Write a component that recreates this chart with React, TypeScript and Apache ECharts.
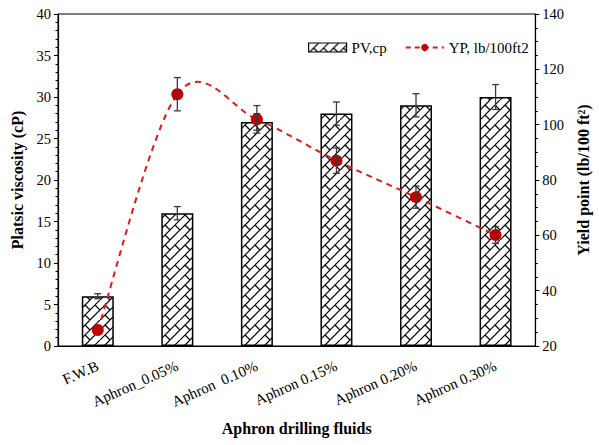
import React, { useEffect, useRef } from "react";
import * as echarts from "echarts";

const categories = ["F.W.B", "Aphron_0.05%", "Aphron  0.10%", "Aphron 0.15%", "Aphron 0.20%", "Aphron 0.30%"];
const pvValues = [6, 16, 27, 28, 29, 30];
const pvErrors = [0.3, 0.8, 1.0, 1.4, 1.4, 1.5];
const ypValues = [25.8, 111, 101.9, 87, 73.8, 60.1];
const ypErrors = [0, 6, 5, 4.6, 4, 3];
const pvTicks = { min: 0, max: 40, interval: 5 };
const ypTicks = { min: 20, max: 140, interval: 20 };

const FONT = "'Liberation Serif', 'Times New Roman', serif";
const LINE_COLOR = "#e0191b";

function makeHatch(): string {
  const c = document.createElement("canvas");
  c.width = 20;
  c.height = 20;
  const ctx = c.getContext("2d")!;
  ctx.fillStyle = "#ffffff";
  ctx.fillRect(0, 0, 20, 20);
  ctx.strokeStyle = "#000000";
  ctx.lineWidth = 1.2;
  const seg = (x1: number, y1: number, x2: number, y2: number) => {
    ctx.beginPath();
    ctx.moveTo(x1, y1);
    ctx.lineTo(x2, y2);
    ctx.stroke();
  };
  seg(0, 10, 10, 0);
  seg(0, 20, 20, 0);
  seg(10, 20, 20, 10);
  seg(5, 5, 10, 10);
  seg(15, 5, 20, 10);
  seg(-5, 5, 0, 10);
  seg(5, 15, 10, 20);
  seg(5, -5, 10, 0);
  return c.toDataURL();
}

function errorSeries(values: number[], errs: number[], yAxisIndex: number, color: string) {
  return {
    type: "custom",
    yAxisIndex,
    z: 6,
    silent: true,
    data: values.map((v, i) => [i, v - errs[i], v + errs[i]]),
    encode: { x: 0, y: [1, 2] },
    renderItem: (params: any, api: any) => {
      const lo = api.coord([api.value(0), api.value(1)]);
      const hi = api.coord([api.value(0), api.value(2)]);
      const w = 3.5;
      const style = { stroke: color, lineWidth: 1.3 };
      if (Math.abs(hi[1] - lo[1]) < 0.5) return { type: "group", children: [] };
      return {
        type: "group",
        children: [
          { type: "line", shape: { x1: lo[0], y1: lo[1], x2: hi[0], y2: hi[1] }, style },
          { type: "line", shape: { x1: lo[0] - w, y1: lo[1], x2: lo[0] + w, y2: lo[1] }, style },
          { type: "line", shape: { x1: hi[0] - w, y1: hi[1], x2: hi[0] + w, y2: hi[1] }, style },
        ],
      };
    },
  };
}

// Catmull-Rom smoothed dashed curve (Excel-like smoothing), drawn segment by segment
function smoothCurveSeries(values: number[], yAxisIndex: number) {
  const n = values.length;
  return {
    type: "custom",
    yAxisIndex,
    z: 3,
    silent: true,
    data: values.map((v, i) => [i, v]),
    encode: { x: 0, y: 1 },
    renderItem: (params: any, api: any) => {
      const i = params.dataIndex;
      if (i >= n - 1) return { type: "group", children: [] };
      const pt = (j: number) => {
        const k = Math.max(0, Math.min(n - 1, j));
        return api.coord([k, values[k]]);
      };
      const p0 = pt(i - 1);
      const p1 = pt(i);
      const p2 = pt(i + 1);
      const p3 = pt(i + 2);
      const k = 1 / 6;
      return {
        type: "bezierCurve",
        shape: {
          x1: p1[0],
          y1: p1[1],
          x2: p2[0],
          y2: p2[1],
          cpx1: p1[0] + (p2[0] - p0[0]) * k,
          cpy1: p1[1] + (p2[1] - p0[1]) * k,
          cpx2: p2[0] - (p3[0] - p1[0]) * k,
          cpy2: p2[1] - (p3[1] - p1[1]) * k,
        },
        style: { stroke: LINE_COLOR, lineWidth: 2, lineDash: [6, 5], fill: null },
      };
    },
  };
}

export default function App() {
  const ref = useRef<HTMLDivElement>(null);
  useEffect(() => {
    if (!ref.current) return;
    const chart = echarts.init(ref.current, null, { renderer: "svg" });
    const hatch = { image: makeHatch(), repeat: "repeat" };
    const axisText = { color: "#000", fontFamily: FONT, fontSize: 14.5 };
    const titleText = { fontFamily: FONT, fontSize: 16, fontWeight: "bold", color: "#000" };
    chart.setOption({
      animation: false,
      backgroundColor: "#fff",
      textStyle: { fontFamily: FONT, color: "#000" },
      grid: { left: 58, right: 56, top: 14, bottom: 99, show: true, borderColor: "#000", borderWidth: 1 },
      legend: {
        top: 35,
        left: 303,
        itemGap: 18,
        textStyle: { fontFamily: FONT, fontSize: 15, color: "#000" },
        data: [
          { name: "PV,cp", icon: "rect", itemStyle: { color: hatch as any, borderColor: "#000", borderWidth: 1.2 } },
          {
            name: "YP, lb/100ft2",
            lineStyle: { color: LINE_COLOR, width: 2, type: [5, 4], opacity: 1 },
            itemStyle: { color: "#c00000" },
          },
        ],
        itemWidth: 38,
        itemHeight: 9,
      },
      xAxis: {
        type: "category",
        data: categories,
        boundaryGap: true,
        axisLine: { lineStyle: { color: "#000", width: 1.2 } },
        axisTick: { alignWithLabel: true, length: 4, lineStyle: { color: "#000" } },
        axisLabel: { ...axisText, fontSize: 15, rotate: 24, margin: 19, interval: 0 },
        name: "Aphron drilling fluids",
        nameLocation: "middle",
        nameGap: 74,
        nameTextStyle: titleText,
      },
      yAxis: [
        {
          type: "value",
          ...pvTicks,
          position: "left",
          splitLine: { show: false },
          axisLine: { show: true, lineStyle: { color: "#000", width: 1.2 } },
          axisTick: { show: true, length: 4, lineStyle: { color: "#000" } },
          minorTick: { show: true, splitNumber: 5, length: 2.5, lineStyle: { color: "#000" } },
          axisLabel: { ...axisText, margin: 7 },
          name: "Platsic viscosity (cP)",
          nameLocation: "middle",
          nameGap: 30,
          nameRotate: 90,
          nameTextStyle: titleText,
        },
        {
          type: "value",
          ...ypTicks,
          position: "right",
          splitLine: { show: false },
          axisLine: { show: true, lineStyle: { color: "#000", width: 1.2 } },
          axisTick: { show: true, length: 4, lineStyle: { color: "#000" } },
          minorTick: { show: true, splitNumber: 4, length: 2.5, lineStyle: { color: "#000" } },
          axisLabel: { ...axisText, margin: 7 },
          name: "Yield point (lb/100 ft²)",
          nameLocation: "middle",
          nameGap: 31,
          nameRotate: 90,
          nameTextStyle: titleText,
        },
      ],
      series: [
        {
          name: "PV,cp",
          type: "bar",
          yAxisIndex: 0,
          data: pvValues,
          barWidth: 32,
          itemStyle: { color: hatch as any, borderColor: "#000", borderWidth: 1.5 },
          z: 2,
        },
        errorSeries(pvValues, pvErrors, 0, "#3a3a3a"),
        smoothCurveSeries(ypValues, 1),
        {
          name: "YP, lb/100ft2",
          type: "line",
          yAxisIndex: 1,
          data: ypValues,
          symbol: "circle",
          symbolSize: 12,
          lineStyle: { color: LINE_COLOR, width: 0, opacity: 0 },
          itemStyle: { color: "#c00000" },
          z: 5,
        },
        errorSeries(ypValues, ypErrors, 1, "#3a3a3a"),
      ],
    });
    return () => chart.dispose();
  }, []);
  return <div ref={ref} style={{ position: "absolute", left: 0, top: 0, width: 599, height: 445 }} />;
}
